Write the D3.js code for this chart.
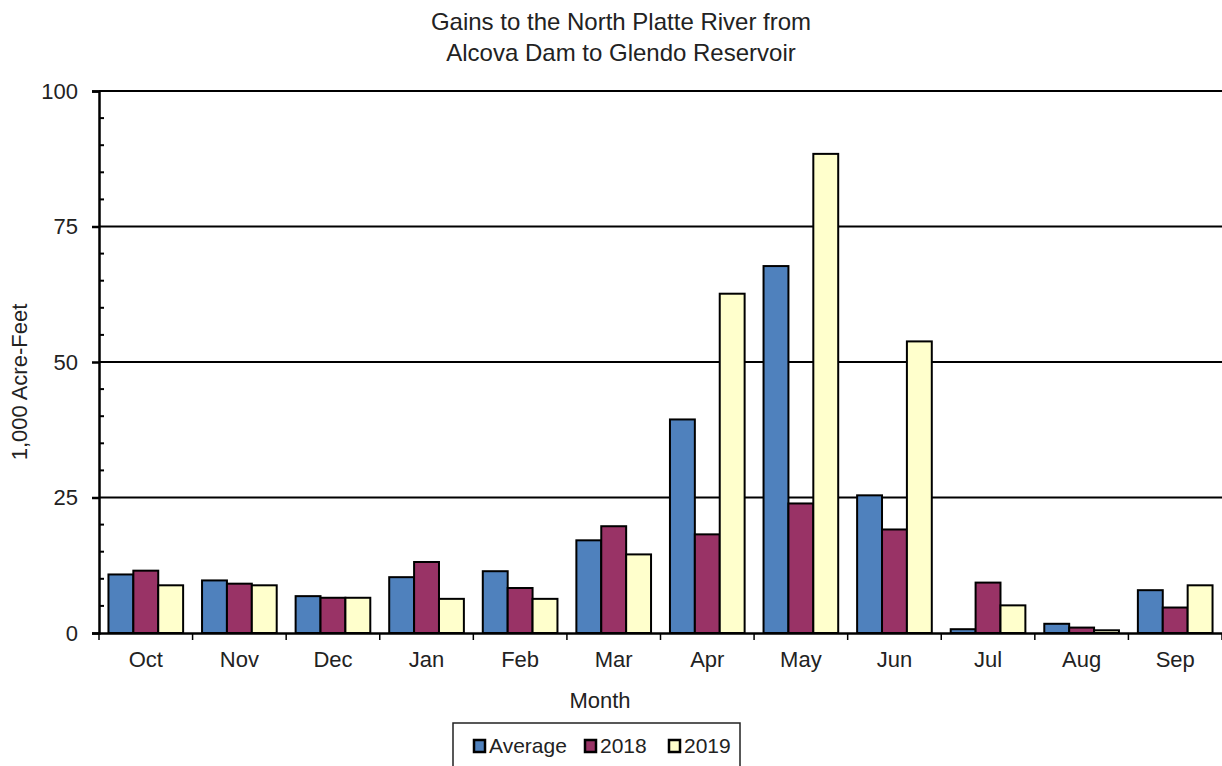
<!DOCTYPE html>
<html>
<head>
<meta charset="utf-8">
<script src="https://cdn.jsdelivr.net/npm/d3@7"></script>
<style>
  body { margin: 0; background: #fff; }
  text { font-family: "Liberation Sans", Arial, sans-serif; fill: #222; }
</style>
</head>
<body>
<svg id="chart" width="1222" height="766"></svg>
<script>
// Data
var months = ["Oct", "Nov", "Dec", "Jan", "Feb", "Mar", "Apr", "May", "Jun", "Jul", "Aug", "Sep"];
var seriesNames = ["Average", "2018", "2019"];
var average = [10.8, 9.7, 6.8, 10.3, 11.4, 17.1, 39.4, 67.7, 25.4, 0.7, 1.7, 7.9];
var y2018 = [11.5, 9.1, 6.5, 13.1, 8.3, 19.7, 18.2, 23.9, 19.1, 9.3, 1.0, 4.7];
var y2019 = [8.8, 8.8, 6.5, 6.3, 6.3, 14.5, 62.6, 88.4, 53.8, 5.1, 0.5, 8.8];
var yTicks = [0, 25, 50, 75, 100];

var COLORS = ["#4F81BD", "#993366", "#FFFFCC"];
var svg = d3.select("#chart");
var plotLeft = 99, plotRight = 1222, plotTop = 91, plotBottom = 633;

var x = d3.scaleBand().domain(months).range([plotLeft, plotRight]).paddingInner(0).paddingOuter(0);
var xs = d3.scaleBand().domain(seriesNames).range([0, x.bandwidth()]).paddingInner(0).paddingOuter(0.38);
var y = d3.scaleLinear().domain([0, 100]).range([plotBottom, plotTop]);

// gridlines
svg.append("g").selectAll("line")
  .data(yTicks.filter(function(d) { return d > 0; }))
  .join("line")
  .attr("x1", plotLeft).attr("x2", plotRight)
  .attr("y1", function(d) { return y(d); }).attr("y2", function(d) { return y(d); })
  .attr("stroke", "#000").attr("stroke-width", 2);

// bars
var allSeries = [average, y2018, y2019];
var groups = svg.append("g").selectAll("g")
  .data(months)
  .join("g")
  .attr("transform", function(d) { return "translate(" + x(d) + ",0)"; });

groups.selectAll("rect")
  .data(function(m, i) {
    return seriesNames.map(function(s, k) { return { s: s, k: k, v: allSeries[k][i] }; });
  })
  .join("rect")
  .attr("x", function(d) { return xs(d.s); })
  .attr("width", xs.bandwidth())
  .attr("y", function(d) { return y(d.v); })
  .attr("height", function(d) { return y(0) - y(d.v); })
  .attr("fill", function(d) { return COLORS[d.k]; })
  .attr("stroke", "#000").attr("stroke-width", 2);

// y axis
var yAxis = svg.append("g").attr("transform", "translate(" + plotLeft + ",0)")
  .call(d3.axisLeft(y).tickValues(yTicks).tickSize(7).tickPadding(14));
yAxis.select(".domain").attr("stroke", "#000").attr("stroke-width", 2.5);
yAxis.selectAll(".tick line").attr("stroke", "#000").attr("stroke-width", 2.5);
yAxis.selectAll("text").style("font-size", "22px").attr("fill", "#222");

// minor ticks
svg.append("g").selectAll("line")
  .data(d3.range(5, 100, 5).filter(function(d) { return d % 25 !== 0; }))
  .join("line")
  .attr("x1", plotLeft).attr("x2", plotLeft + 5)
  .attr("y1", function(d) { return y(d); }).attr("y2", function(d) { return y(d); })
  .attr("stroke", "#000").attr("stroke-width", 2);

// x axis
var xAxis = svg.append("g").attr("transform", "translate(0," + plotBottom + ")")
  .call(d3.axisBottom(x).tickSize(0).tickPadding(18));
xAxis.select(".domain").attr("stroke", "#000").attr("stroke-width", 2.5);
xAxis.selectAll("text").style("font-size", "22px").attr("fill", "#222");

svg.append("g").selectAll("line")
  .data(months.map(function(m) { return x(m); }).concat([plotRight]))
  .join("line")
  .attr("x1", function(d) { return d; }).attr("x2", function(d) { return d; })
  .attr("y1", plotBottom).attr("y2", plotBottom + 7)
  .attr("stroke", "#000").attr("stroke-width", 1.5);

// titles
svg.append("text").attr("x", 621).attr("y", 30).attr("text-anchor", "middle")
  .style("font-size", "24px").text("Gains to the North Platte River from");
svg.append("text").attr("x", 621).attr("y", 61).attr("text-anchor", "middle")
  .style("font-size", "24px").text("Alcova Dam to Glendo Reservoir");

svg.append("text").attr("x", 600).attr("y", 708).attr("text-anchor", "middle")
  .style("font-size", "22px").text("Month");

svg.append("text")
  .attr("transform", "translate(27,382) rotate(-90)")
  .attr("text-anchor", "middle")
  .style("font-size", "22px").text("1,000 Acre-Feet");

// legend
var legend = svg.append("g");
legend.append("rect").attr("x", 453).attr("y", 723).attr("width", 287).attr("height", 60)
  .attr("fill", "#fff").attr("stroke", "#222").attr("stroke-width", 1.5);
var legendX = [474, 585, 669];
var li = legend.selectAll("g.item")
  .data(seriesNames)
  .join("g").attr("class", "item")
  .attr("transform", function(d, i) { return "translate(" + legendX[i] + ",746)"; });
li.append("rect").attr("x", 0).attr("y", -6).attr("width", 11).attr("height", 12)
  .attr("fill", function(d, i) { return COLORS[i]; })
  .attr("stroke", "#000").attr("stroke-width", 2.5);
li.append("text").attr("x", 15).attr("y", 7)
  .style("font-size", "21px").text(function(d) { return d; });
</script>
</body>
</html>
